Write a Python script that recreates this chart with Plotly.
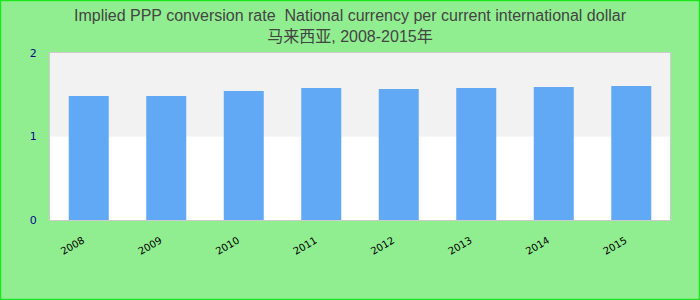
import plotly.graph_objects as go

years = ["2008", "2009", "2010", "2011", "2012", "2013", "2014", "2015"]
values = [1.485, 1.485, 1.545, 1.58, 1.569, 1.58, 1.593, 1.605]
y_ticks = [0, 1, 2]

title_text = ("Implied PPP conversion rate  National currency per current international dollar"
              "<br>马来西亚, 2008-2015年")

W, H = 700, 300
ml, mr, mt, mb = 50, 30, 53, 80
pw, ph = W - ml - mr, H - mt - mb

fig = go.Figure()
fig.add_trace(go.Bar(x=years, y=values, marker=dict(color="#61a9f4", line=dict(width=0)),
                     hoverinfo="x+y"))

shapes = [
    dict(type="rect", xref="paper", yref="y", x0=0, x1=1, y0=1, y1=2,
         fillcolor="#f2f2f2", line=dict(width=0), layer="below"),
    dict(type="rect", xref="paper", yref="paper",
         x0=-(ml - 0.5) / pw, x1=1 + (mr - 0.5) / pw,
         y0=-(mb - 0.5) / ph, y1=1 + (mt - 0.5) / ph,
         line=dict(color="#1ee61e", width=1.5), fillcolor="rgba(0,0,0,0)", layer="above"),
]

fig.update_layout(
    width=W, height=H,
    margin=dict(l=ml, r=mr, t=mt, b=mb),
    paper_bgcolor="#90ee90",
    plot_bgcolor="#ffffff",
    showlegend=False,
    bargap=0.484,
    shapes=shapes,
    title=dict(text=title_text, x=0.5, xref="container", xanchor="center",
               y=1 - 21 / H, yref="container", yanchor="middle",
               font=dict(family="Liberation Sans, Arial, Noto Sans CJK SC", size=16, color="#444444")),
    font=dict(family="DejaVu Sans, Verdana"),
)
fig.update_xaxes(
    type="category", tickangle=-30, tickfont=dict(size=10, color="#000000"),
    showline=True, linecolor="#cccccc", linewidth=1, mirror=True,
    ticks="", ticklabelstandoff=10, ticklabelshift=-6, showgrid=False,
)
fig.update_yaxes(
    range=[0, 2], tickvals=y_ticks, tickfont=dict(size=11, color="#0a0a8c"),
    showline=True, linecolor="#cccccc", linewidth=1, mirror=True,
    showgrid=False, zeroline=False, ticks="", ticklabelstandoff=10,
)

fig.write_html("out.html")
